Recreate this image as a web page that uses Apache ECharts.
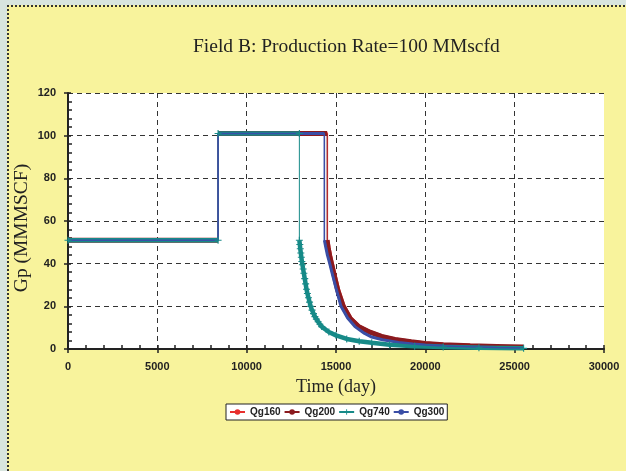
<!DOCTYPE html>
<html><head><meta charset="utf-8">
<script src="https://cdn.jsdelivr.net/npm/echarts@6/dist/echarts.min.js"></script>
<style>
html,body{margin:0;padding:0;width:626px;height:471px;overflow:hidden;background:#d8e5df;}
#bg{position:absolute;left:7px;top:5px;width:640px;height:480px;background:#f8f39c;border-top:2px dotted #333;border-left:2px dotted #333;}
#chart{position:absolute;left:0;top:0;width:626px;height:471px;}
</style></head>
<body><div id="bg"></div><div id="chart"></div>
<script>
const titleText = 'Field B: Production Rate=100 MMscfd';
const yAxisTitle = 'Gp (MMMSCF)';
const xAxisTitle = 'Time (day)';
const seriesNames = ['Qg160', 'Qg200', 'Qg740', 'Qg300'];
const xTicks = [0, 5000, 10000, 15000, 20000, 25000, 30000];
const yTicks = [0, 20, 40, 60, 80, 100, 120];

const qg160Days = [0, 8400, 8400, 14530, 14530, 14590, 14680, 14790, 14930, 15130, 15430, 15830, 16280, 16930, 17580, 18330, 19230, 20030, 21030, 22530, 24030, 25500];
const qg160Gp   = [51, 51, 101, 101, 51, 48, 44, 40, 35, 28, 20.5, 14.5, 10.8, 8.0, 6.0, 4.6, 3.5, 2.7, 2.1, 1.6, 1.2, 1.0];

const qg200Days = [0, 8400, 8400, 14500, 14500, 14560, 14650, 14760, 14900, 15100, 15400, 15800, 16250, 16900, 17550, 18300, 19200, 20000, 21000, 22500, 24000, 25500];
const qg200Gp   = [51, 51, 101, 101, 51, 47.5, 43.5, 39.5, 34.5, 27.5, 20, 14.2, 10.6, 7.9, 5.9, 4.5, 3.4, 2.6, 2.0, 1.5, 1.2, 0.9];

const qg740Days = [0, 8400, 8400, 12950, 12950, 12975, 13000, 13030, 13060, 13090, 13120, 13160, 13200, 13250, 13300, 13350, 13400, 13460, 13520, 13580, 13660, 13740, 13820, 13900, 14000, 14100, 14200, 14600, 15000, 15600, 16300, 17000, 18000, 19400, 21000, 23000, 25500];
const qg740Gp   = [51, 51, 101, 101, 51, 49, 47, 45, 43, 41, 39.5, 37.5, 35.5, 33, 30.5, 28, 26, 24, 22, 20, 18.2, 16.6, 15.2, 14, 12.8, 11.6, 10.5, 8, 6.4, 4.7, 3.6, 2.9, 2.0, 1.3, 0.9, 0.6, 0.3];

const qg300Days = [0, 8400, 8400, 14350, 14350, 14420, 14520, 14650, 14800, 15000, 15280, 15650, 16060, 16600, 17000, 17600, 18500, 19300, 20000, 21000, 22500, 24000, 25500];
const qg300Gp   = [51, 51, 101, 101, 51, 48, 44, 40, 35, 28.5, 20, 14.5, 10.5, 7.3, 5.6, 4.3, 3.1, 2.4, 1.9, 1.4, 1.0, 0.7, 0.5];

function path(days, gp) { return days.map((d, i) => [d, gp[i]]); }
function band(days, gp) {
  const out = [];
  days.forEach((d, i) => {
    if (i > 0 && d === days[i - 1]) out.push(null);
    out.push([d, gp[i]]);
  });
  return out;
}

const cross = 'path://M4.2,0H5.8V4.2H10V5.8H5.8V10H4.2V5.8H0V4.2H4.2Z';
const defs = {
  Qg160: { days: qg160Days, gp: qg160Gp, color: '#e8302e', symbol: 'circle', size: 3, band: 3.5, showSym: false },
  Qg200: { days: qg200Days, gp: qg200Gp, color: '#8a1a1e', symbol: 'circle', size: 6, band: 5, showSym: false },
  Qg740: { days: qg740Days, gp: qg740Gp, color: '#178a88', symbol: cross, size: 7, band: 4.5, showSym: true },
  Qg300: { days: qg300Days, gp: qg300Gp, color: '#3a4ea6', symbol: 'circle', size: 3, band: 3, showSym: false }
};

function thin(name, w) {
  const s = defs[name];
  return {
    name: name, type: 'line', data: path(s.days, s.gp),
    symbol: s.symbol, symbolSize: s.size, showSymbol: s.showSym,
    lineStyle: { width: w || 1, color: s.color }, itemStyle: { color: s.color },
    animation: false, silent: true
  };
}
function thick(name) {
  const s = defs[name];
  return {
    name: name, type: 'line', data: band(s.days, s.gp),
    symbol: 'none', connectNulls: false,
    lineStyle: { width: s.band, color: s.color }, itemStyle: { color: s.color },
    animation: false, silent: true
  };
}

const series = [
  thin('Qg160'), thick('Qg160'),
  thin('Qg200'), thick('Qg200'),
  thin('Qg300'), thick('Qg300'),
  thin('Qg740'), thick('Qg740'),
  thin('Qg300', 1.5)
];

const labelFont = { fontFamily: 'Liberation Sans', fontWeight: 'bold', fontSize: 11, color: '#222' };
const serif = 'Liberation Serif';

const chart = echarts.init(document.getElementById('chart'), null, { renderer: 'canvas' });
chart.setOption({
  backgroundColor: 'transparent',
  animation: false,
  title: { text: titleText, left: 188, top: 32, textStyle: { fontFamily: serif, fontWeight: 'normal', fontSize: 19.5, color: '#222' } },
  legend: {
    data: seriesNames, left: 226, top: 404, orient: 'horizontal',
    itemWidth: 15, itemHeight: 7, itemGap: 3,
    backgroundColor: '#fff', borderColor: '#222', borderWidth: 1, padding: [3, 3, 3, 3],
    textStyle: { fontFamily: 'Liberation Sans', fontWeight: 'bold', fontSize: 10, color: '#222' }
  },
  graphic: [{
    type: 'text', x: 22, y: 228, rotation: Math.PI / 2, silent: true,
    style: { text: yAxisTitle, fontFamily: serif, fontSize: 19.5, fill: '#222', align: 'center', verticalAlign: 'middle' }
  }],
  grid: { left: 68, right: 22, top: 93, bottom: 122, show: true, backgroundColor: '#fff', borderWidth: 0 },
  xAxis: [
    {
      type: 'value', min: xTicks[0], max: xTicks[xTicks.length - 1], interval: xTicks[1] - xTicks[0],
      name: xAxisTitle, nameLocation: 'middle', nameGap: 29,
      nameTextStyle: { fontFamily: serif, fontSize: 18, color: '#222' },
      axisLine: { show: true, onZero: false, lineStyle: { color: '#222', width: 2 } },
      axisTick: { show: true, length: 4, lineStyle: { color: '#222', width: 1.5 } },
      axisLabel: Object.assign({ margin: 12, formatter: v => String(v) }, labelFont),
      splitLine: { show: true, showMinLine: false, showMaxLine: false, lineStyle: { color: '#333', type: [5, 4], width: 1 } }
    },
    {
      type: 'value', min: xTicks[0], max: xTicks[xTicks.length - 1], interval: xTicks[1] - xTicks[0],
      position: 'bottom', axisLine: { show: false, onZero: false },
      axisTick: { show: true, inside: true, length: 4, lineStyle: { color: '#222', width: 1.5 } },
      minorTick: { show: true, splitNumber: 5, length: 4, lineStyle: { color: '#222', width: 1.5 } },
      axisLabel: { show: false }, splitLine: { show: false }
    }
  ],
  yAxis: [
    {
      type: 'value', min: yTicks[0], max: yTicks[yTicks.length - 1], interval: yTicks[1] - yTicks[0],
      axisLine: { show: true, onZero: false, lineStyle: { color: '#222', width: 2 } },
      axisTick: { show: true, length: 4, lineStyle: { color: '#222', width: 1.5 } },
      axisLabel: Object.assign({ margin: 12, formatter: v => String(v) }, labelFont),
      splitLine: { show: true, showMinLine: false, lineStyle: { color: '#333', type: [5, 4], width: 1 } }
    },
    {
      type: 'value', min: yTicks[0], max: yTicks[yTicks.length - 1], interval: yTicks[1] - yTicks[0],
      position: 'left', axisLine: { show: false, onZero: false },
      axisTick: { show: true, inside: true, length: 3, lineStyle: { color: '#222', width: 1.5 } },
      minorTick: { show: true, splitNumber: 5, length: 4, lineStyle: { color: '#222', width: 1.5 } },
      axisLabel: { show: false }, splitLine: { show: false }
    }
  ],
  series: series
});
</script></body></html>
